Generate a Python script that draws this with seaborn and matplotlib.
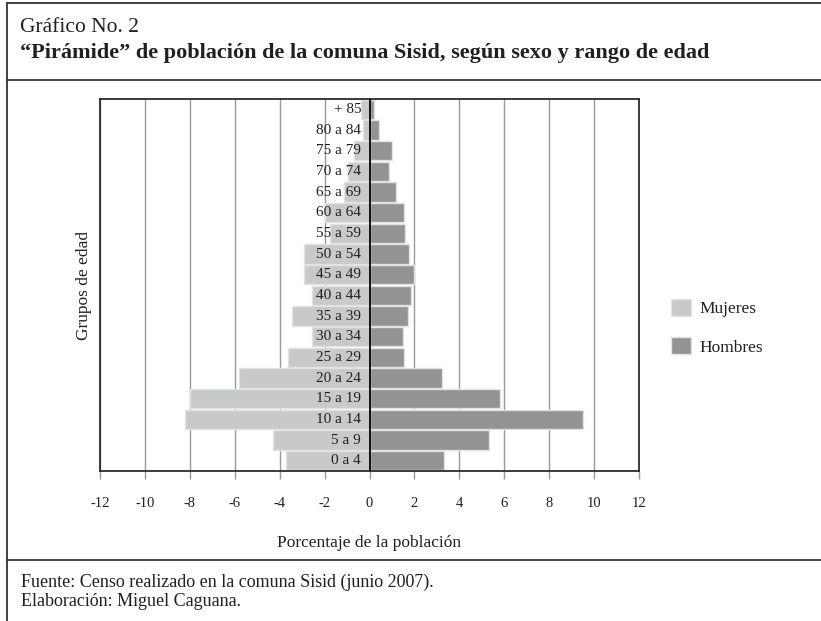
import pandas as pd
import seaborn as sns
from matplotlib import pyplot as plt
from matplotlib.lines import Line2D

# age groups, top to bottom as in the chart
grupos = ["+ 85", "80 a 84", "75 a 79", "70 a 74", "65 a 69", "60 a 64",
          "55 a 59", "50 a 54", "45 a 49", "40 a 44", "35 a 39", "30 a 34",
          "25 a 29", "20 a 24", "15 a 19", "10 a 14", "5 a 9", "0 a 4"]
# percentage of the population (women plotted to the left)
mujeres = [-0.4, -0.3, -0.7, -0.95, -1.15, -2.0, -1.75, -2.9, -2.9, -2.55,
           -3.45, -2.55, -3.65, -5.8, -8.0, -8.2, -4.3, -3.7]
hombres = [0.2, 0.42, 1.0, 0.88, 1.18, 1.52, 1.57, 1.78, 1.96, 1.84,
           1.72, 1.48, 1.55, 3.22, 5.8, 9.5, 5.3, 3.3]
xticks = list(range(-12, 13, 2))

df = pd.concat([
    pd.DataFrame({"grupo": grupos, "porcentaje": mujeres, "sexo": "Mujeres"}),
    pd.DataFrame({"grupo": grupos, "porcentaje": hombres, "sexo": "Hombres"}),
])

sns.set_style("white")
plt.rcParams["font.family"] = ["Liberation Serif", "DejaVu Serif"]
plt.rcParams["axes.unicode_minus"] = False
txt = "#231f20"

fig = plt.figure(figsize=(8.21, 6.21), dpi=100)
ax = fig.add_axes([100 / 821, 1 - 471 / 621, 539 / 821, 372 / 621])

sns.barplot(data=df, y="grupo", x="porcentaje", hue="sexo", order=grupos,
            hue_order=["Mujeres", "Hombres"],
            palette={"Mujeres": "#c8c9cb", "Hombres": "#929396"},
            dodge=False, width=0.94, errorbar=None, orient="h",
            edgecolor="#e2e2e2", linewidth=1, ax=ax)

ax.axvline(0, color="black", lw=1.3, zorder=4)
ax.set_xlim(-12, 12)
ax.set_xticks(xticks)
ax.grid(axis="x", color="#999999", lw=1)
ax.set_axisbelow(True)
ax.set_yticks([])
for sp in ax.spines.values():
    sp.set_visible(True)
    sp.set_color("#2b2b2b")
    sp.set_linewidth(1.3)

# age labels sit just left of the zero line
for i, g in enumerate(grupos):
    ax.annotate(g, xy=(0, i), xytext=(-6, 0), textcoords="offset points",
                ha="right", va="center", fontsize=11, color=txt, zorder=5)

ax.tick_params(axis="x", direction="out", length=6, width=1, color="#999999",
               pad=13, labelsize=10.5, labelcolor=txt, bottom=True)
for t in ax.xaxis.get_major_ticks():
    v = t.get_loc()
    if v == 0:
        t.tick1line.set_color("black")
    elif abs(v) == 12:
        t.tick1line.set_visible(False)

ax.set_xlabel("Porcentaje de la población", fontsize=12.5, color=txt, labelpad=18)
ax.set_ylabel("Grupos de edad", fontsize=12.5, color=txt, labelpad=6)

sns.move_legend(ax, loc="upper left", bbox_to_anchor=(662 / 821, 1 - 290 / 621),
                bbox_transform=fig.transFigure, title=None, frameon=False,
                fontsize=12.5, handlelength=1.15, handleheight=1.15,
                handletextpad=0.5, labelspacing=1.15, borderpad=0,
                labelcolor=txt)

# page frame around the figure
lc = "#333333"
fig.add_artist(Line2D([7 / 821, 7 / 821], [0, 1 - 3 / 621], transform=fig.transFigure, color=lc, lw=1.3))
for yy in (3, 80, 560):
    fig.add_artist(Line2D([7 / 821, 1], [1 - yy / 621] * 2, transform=fig.transFigure, color=lc, lw=1.3))

fig.text(20 / 821, 1 - 27 / 621, "Gráfico No. 2", fontsize=15.5, color=txt, va="center")
fig.text(20 / 821, 1 - 53 / 621,
         "“Pirámide” de población de la comuna Sisid, según sexo y rango de edad",
         fontsize=16, fontweight="bold", color=txt, va="center")
fig.text(21 / 821, 1 - 582 / 621, "Fuente: Censo realizado en la comuna Sisid (junio 2007).",
         fontsize=13, color=txt, va="center")
fig.text(21 / 821, 1 - 601 / 621, "Elaboración: Miguel Caguana.",
         fontsize=13, color=txt, va="center")

plt.savefig("out.png", dpi=100)
